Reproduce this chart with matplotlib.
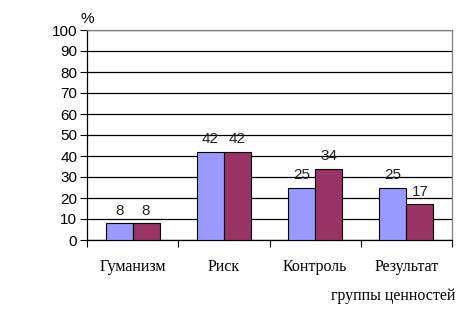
import numpy as np
import matplotlib
matplotlib.use("Agg")
import matplotlib.pyplot as plt

categories = ["Гуманизм", "Риск", "Контроль", "Результат"]
series_a = [8, 42, 25, 25]
series_b = [8, 42, 34, 17]
y_ticks = list(range(0, 101, 10))

fig = plt.figure(figsize=(4.67, 3.28), dpi=100)
ax = fig.add_axes([87 / 467, 1 - 240 / 328, 365 / 467, 210 / 328])

x = np.arange(len(categories))
w = 0.295
bars_a = ax.bar(x - w / 2, series_a, w, color="#9999FF", edgecolor="black", linewidth=0.8, zorder=3)
bars_b = ax.bar(x + w / 2, series_b, w, color="#993366", edgecolor="black", linewidth=0.8, zorder=3)

for bars, vals in [(bars_a, series_a), (bars_b, series_b)]:
    for b, v in zip(bars, vals):
        ax.annotate(str(v), (b.get_x() + b.get_width() / 2, v), xytext=(0, 4),
                    textcoords="offset points", ha="center", va="bottom",
                    fontsize=11, family="Liberation Sans", color="#222222")

ax.set_xlim(-0.5, len(categories) - 0.5)
ax.set_ylim(0, 100)
ax.set_yticks(y_ticks)
ax.set_yticklabels([str(t) for t in y_ticks], family="Liberation Sans", fontsize=11)
ax.yaxis.grid(True, color="black", linewidth=0.9, zorder=0)
ax.set_axisbelow(True)

# category labels at centres, ticks between categories
ax.set_xticks(x)
ax.set_xticklabels(categories, family="Liberation Serif", fontsize=11.5)
ax.tick_params(axis="x", length=0, pad=14)
ax.set_xticks(np.arange(-0.5, len(categories)), minor=True)
ax.tick_params(axis="x", which="minor", length=5, width=0.8, direction="out")
ax.tick_params(axis="y", length=5, width=0.8, direction="out", pad=2)

for s in ["left", "bottom"]:
    ax.spines[s].set_color("black")
    ax.spines[s].set_linewidth(0.9)
for s in ["top", "right"]:
    ax.spines[s].set_color("#808080")
    ax.spines[s].set_linewidth(0.9)

fig.text(87 / 467, 1 - 19 / 328, "%", ha="center", va="center",
         family="Liberation Sans", fontsize=11)
fig.text(455 / 467, 1 - 296 / 328, "группы ценностей", ha="right", va="center",
         family="Liberation Serif", fontsize=11.5)

fig.savefig("out.png", dpi=100)
